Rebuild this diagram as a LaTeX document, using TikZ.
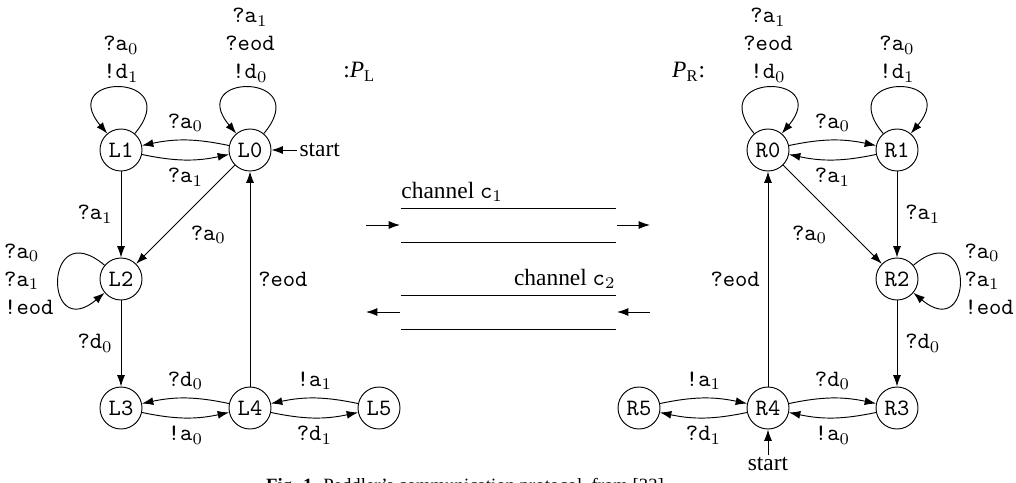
\documentclass[tikz,border=0pt]{standalone}
\usepackage{fontspec}
\setmainfont{Liberation Serif}
\usetikzlibrary{arrows.meta, positioning}

\newcommand{\act}[2]{\texttt{#1}$_{#2}$}

\begin{document}
\begin{tikzpicture}[node distance=1.935cm,
  >={Latex[length=1.7mm,width=1.2mm]},
  st/.style={circle,draw,minimum size=0.63cm,inner sep=0pt,font=\ttfamily},
  lbl/.style={align=center,inner sep=2pt}]
\useasboundingbox (0,0) rectangle (15.24,-7.245);
% process P_L
\node[st] (L1) at (1.815,-2.25) {L1};
\node[st, right of=L1] (L0) {L0};
\node[st, below of=L1] (L2) {L2};
\node[st, below of=L2] (L3) {L3};
\node[st, right of=L3] (L4) {L4};
\node[st, right of=L4] (L5) {L5};
\node[right=0.38cm of L0, inner sep=1pt] (sL) {start};
\node (PL) at (5.39,-1.08) {:\textit{P}$_{\mathrm{L}}$};
\draw[->] (sL) -- (L0);
\draw[->] (L1) to[out=50,in=130,distance=12mm] node[above,lbl] {\act{?a}{0}\\\act{!d}{1}} (L1);
\draw[->] (L0) to[out=50,in=130,distance=12mm] node[above,lbl] {\act{?a}{1}\\\texttt{?eod}\\\act{!d}{0}} (L0);
\draw[->] (L2) to[out=140,in=220,distance=12mm] node[left,lbl,align=left] {\act{?a}{0}\\\act{?a}{1}\\\texttt{!eod}} (L2);
\draw[->] (L0) to[bend right=12] node[above] {\act{?a}{0}} (L1);
\draw[->] (L1) to[bend right=12] node[below] {\act{?a}{1}} (L0);
\draw[->] (L1) -- node[left] {\act{?a}{1}} (L2);
\draw[->] (L0) -- node[below right, pos=0.53] {\act{?a}{0}} (L2);
\draw[->] (L2) -- node[left] {\act{?d}{0}} (L3);
\draw[->] (L4) -- node[right] {\texttt{?eod}} (L0);
\draw[->] (L4) to[bend right=12] node[above] {\act{?d}{0}} (L3);
\draw[->] (L3) to[bend right=12] node[below] {\act{!a}{0}} (L4);
\draw[->] (L5) to[bend right=12] node[above] {\act{!a}{1}} (L4);
\draw[->] (L4) to[bend right=12] node[below] {\act{?d}{1}} (L5);
% process P_R
\node[st] (R0) at (11.52,-2.25) {R0};
\node[st, right of=R0] (R1) {R1};
\node[st, below of=R1] (R2) {R2};
\node[st, below of=R2] (R3) {R3};
\node[st, left of=R3] (R4) {R4};
\node[st, left of=R4] (R5) {R5};
\node[below=0.38cm of R4, inner sep=1pt] (sR) {start};
\node (PR) at (10.33,-1.08) {\textit{P}$_{\mathrm{R}}$:};
\draw[->] (sR) -- (R4);
\draw[->] (R0) to[out=130,in=50,distance=12mm] node[above,lbl] {\act{?a}{1}\\\texttt{?eod}\\\act{!d}{0}} (R0);
\draw[->] (R1) to[out=130,in=50,distance=12mm] node[above,lbl] {\act{?a}{0}\\\act{!d}{1}} (R1);
\draw[->] (R2) to[out=40,in=320,distance=12mm] node[right,lbl,align=left] {\act{?a}{0}\\\act{?a}{1}\\\texttt{!eod}} (R2);
\draw[->] (R0) to[bend left=12] node[above] {\act{?a}{0}} (R1);
\draw[->] (R1) to[bend left=12] node[below] {\act{?a}{1}} (R0);
\draw[->] (R1) -- node[right] {\act{?a}{1}} (R2);
\draw[->] (R0) -- node[below left, pos=0.53] {\act{?a}{0}} (R2);
\draw[->] (R2) -- node[right] {\act{?d}{0}} (R3);
\draw[->] (R4) -- node[left] {\texttt{?eod}} (R0);
\draw[->] (R4) to[bend left=12] node[above] {\act{?d}{0}} (R3);
\draw[->] (R3) to[bend left=12] node[below] {\act{!a}{0}} (R4);
\draw[->] (R5) to[bend left=12] node[above] {\act{!a}{1}} (R4);
\draw[->] (R4) to[bend left=12] node[below] {\act{?d}{1}} (R5);
% channels
\draw (6.015,-3.12) -- (9.24,-3.12) (6.015,-3.63) -- (9.24,-3.63);
\draw (6.015,-4.425) -- (9.24,-4.425) (6.015,-4.935) -- (9.24,-4.935);
\node[anchor=south west, inner xsep=0pt, inner ysep=2.5pt] (c1) at (6.015,-3.12) {channel \texttt{c}$_1$};
\node[anchor=south east, inner xsep=0pt, inner ysep=2.5pt] (c2) at (9.24,-4.425) {channel \texttt{c}$_2$};
\coordinate (c1in) at (5.49,-3.375);
\coordinate (c1l) at (6.0,-3.375);
\coordinate (c1r) at (9.255,-3.375);
\coordinate (c1out) at (9.75,-3.375);
\coordinate (c2in) at (9.75,-4.68);
\coordinate (c2r) at (9.255,-4.68);
\coordinate (c2l) at (6.0,-4.68);
\coordinate (c2out) at (5.49,-4.68);
\draw[->] (c1in) -- (c1l);
\draw[->] (c1r) -- (c1out);
\draw[->] (c2in) -- (c2r);
\draw[->] (c2l) -- (c2out);
% caption, cut by the page edge
\node[anchor=base, font=\footnotesize] (cap) at (6.975,-7.37) {\textbf{Fig. 1.} Peddler's communication protocol, from [33]};
\end{tikzpicture}
\end{document}
